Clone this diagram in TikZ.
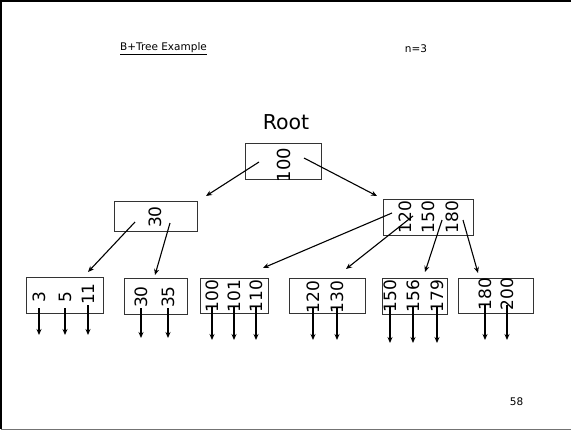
\documentclass[tikz,border=0pt]{standalone}
\usepackage{fontspec}
\setmainfont{DejaVu Sans}
\usetikzlibrary{arrows.meta}

\begin{document}
\begin{tikzpicture}[x=1pt,y=-1pt,
  nodebox/.style={draw=black!80,line width=0.8pt,minimum width=#1,minimum height=36pt,
                  inner sep=0pt},
  key/.style={rotate=90,inner sep=0pt,font=\fontsize{17}{17}\selectfont},
  small/.style={inner sep=0pt,font=\fontsize{10.5}{12}\selectfont},
  link/.style={-{Stealth[length=6pt,width=5pt]},line width=1.1pt},
  ptr/.style={-{Stealth[length=6pt,width=5pt]},line width=1.1pt}
]
\useasboundingbox (0,0) rectangle (571,434);

% Frame
\draw[line width=1.5pt] (571,1) -- (1,1) -- (1,429);
\draw[black!55,line width=1pt] (1,429) -- (571,429);

% Texts
\node[small] (title) at (163.5,49) {\underline{B+Tree Example}};
\node[small] (order) at (416,49) {n=3};
\node[small] (page) at (516.5,402) {58};
\node[font=\fontsize{20.5}{24}\selectfont,inner sep=0pt] (rootlbl) at (286,122) {Root};

% Inner nodes
\node[nodebox=76pt] (root) at (283,161) {};
\node[key,font=\fontsize{18}{18}\selectfont] (k100) at (284,165) {100};

\node[nodebox=83pt,minimum height=30pt] (left) at (155.5,216) {};
\node[key] (k30) at (155,217) {30};

\node[nodebox=90pt] (right) at (428,217) {};
\foreach \k/\x in {120/405,150/428,180/452}
  \node[key] (k\k) at (\x,217) {\k};

% Leaves
\node[nodebox=77pt] (leafA) at (64.5,295) {};
\node[nodebox=63pt] (leafB) at (155.5,296) {};
\node[nodebox=68pt,minimum height=35pt] (leafC) at (234,295.5) {};
\node[nodebox=76pt,minimum height=35pt] (leafD) at (327,295.5) {};
\node[nodebox=65pt] (leafE) at (414.5,296) {};
\node[nodebox=75pt,minimum height=35pt] (leafF) at (495.5,295.5) {};

% Leaf keys with record pointers
\foreach \k/\x/\y/\e in {3/39/297/335,5/65/297/335,11/88/294/335,30/141/297/338,
    35/168/297/338,100/212/296/340,101/234/296/340,110/256/296/340,120/313/297/340,
    130/337/297/340,150/390/296/343,156/413/296/343,179/437/296/343,180/485/294/340,
    200/507/294/340} {
  \node[key] (l\k) at (\x,\y) {\k};
  \coordinate (p\k) at (\x,\e);
  \draw[ptr] ([yshift=-11pt]l\k.center) -- (p\k);
}

% Tree links
\foreach \n/\a/\b/\c/\d in {rl/259/162/206/196,rr/304/158/377/196,
    la/135/222/88/272,lb/170/223/155/275,
    rc/392/213/263/268,rd/413/216/346/269,re/442/220/425/272,rf/463/220/478/273} {
  \coordinate (\n s) at (\a,\b);
  \coordinate (\n t) at (\c,\d);
  \draw[link] (\n s) -- (\n t);
}

\end{tikzpicture}
\end{document}
